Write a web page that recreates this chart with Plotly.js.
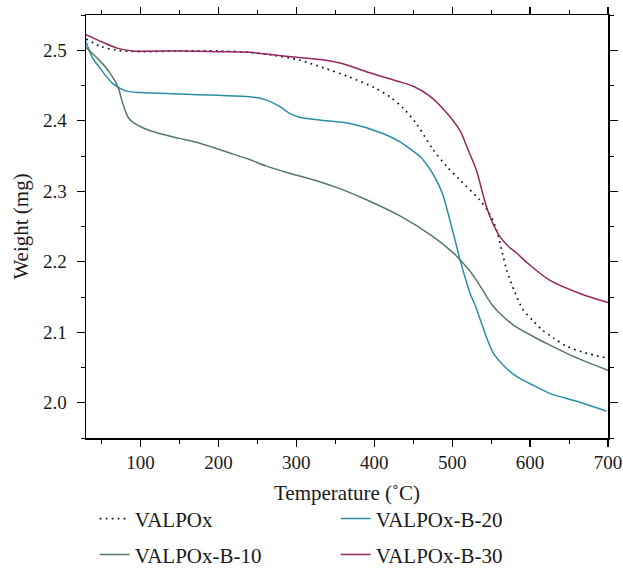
<!DOCTYPE html>
<html>
<head>
<meta charset="utf-8">
<script src="https://cdn.plot.ly/plotly-3.0.1.min.js"></script>
<style>html,body{margin:0;padding:0;background:#fff;}#chart{width:623px;height:569px;}</style>
</head>
<body>
<div id="chart"></div>
<script>
// Temperature (°C) / Weight (mg)
const tValpox = [30, 50, 70, 100, 150, 200, 240, 270, 304, 335, 368, 400, 420, 437, 454, 475, 493, 510, 535, 548, 557, 565, 570, 580, 591, 605, 616, 630, 647, 670, 700];
const wValpox = [2.516, 2.505, 2.500, 2.498, 2.499, 2.499, 2.497, 2.493, 2.486, 2.475, 2.462, 2.447, 2.434, 2.418, 2.396, 2.360, 2.335, 2.316, 2.288, 2.268, 2.245, 2.210, 2.188, 2.158, 2.132, 2.115, 2.103, 2.092, 2.080, 2.071, 2.063];

const tB10 = [30, 47, 60, 71, 77, 84, 90, 105, 124, 150, 176, 218, 240, 261, 290, 326, 360, 390, 433, 475, 500, 510, 522, 531, 538, 544, 552, 561, 580, 604, 625, 647, 670, 700];
const wB10 = [2.504, 2.486, 2.469, 2.448, 2.425, 2.405, 2.398, 2.389, 2.382, 2.375, 2.368, 2.353, 2.345, 2.336, 2.326, 2.315, 2.302, 2.288, 2.265, 2.236, 2.214, 2.203, 2.188, 2.174, 2.162, 2.151, 2.138, 2.127, 2.109, 2.094, 2.082, 2.070, 2.059, 2.046];

const tB20 = [30, 38, 47, 56, 64, 72, 82, 100, 150, 200, 240, 260, 279, 292, 304, 330, 369, 411, 433, 446, 460, 471, 480, 488, 497, 505, 510, 516, 523, 530, 536, 545, 553, 565, 583, 600, 626, 660, 698];
const wB20 = [2.512, 2.490, 2.476, 2.463, 2.453, 2.447, 2.442, 2.440, 2.438, 2.436, 2.434, 2.430, 2.420, 2.410, 2.405, 2.401, 2.396, 2.382, 2.370, 2.360, 2.348, 2.332, 2.315, 2.295, 2.259, 2.225, 2.203, 2.180, 2.155, 2.137, 2.118, 2.090, 2.070, 2.054, 2.037, 2.027, 2.013, 2.002, 1.988];

const tB30 = [30, 50, 70, 90, 150, 200, 240, 290, 330, 356, 394, 430, 450, 470, 490, 510, 520, 531, 538, 544, 552, 561, 572, 583, 600, 625, 664, 700];
const wB30 = [2.522, 2.512, 2.503, 2.499, 2.499, 2.498, 2.497, 2.491, 2.487, 2.482, 2.468, 2.456, 2.449, 2.436, 2.415, 2.386, 2.360, 2.330, 2.302, 2.278, 2.255, 2.236, 2.222, 2.212, 2.195, 2.174, 2.155, 2.142];

const names = ['VALPOx', 'VALPOx-B-10', 'VALPOx-B-20', 'VALPOx-B-30'];
const colors = ['#111111', '#547a62', '#2a8da6', '#952660'];
const xTitle = 'Temperature (˚C)';
const yTitle = 'Weight (mg)';

const fam = '"Liberation Serif", "Times New Roman", serif';
const tickFont = {family: fam, size: 19, color: '#1a1a1a'};
const titleFont = {family: fam, size: 21, color: '#1a1a1a'};
const legFont = {family: fam, size: 21, color: '#1a1a1a'};

const traces = [
  {x: tValpox, y: wValpox, name: names[0], mode: 'lines', line: {color: colors[0], width: 1.7, dash: '1.7px,4.3px', shape: 'spline', smoothing: 0.8}, legend: 'legend'},
  {x: tB20, y: wB20, name: names[2], mode: 'lines', line: {color: colors[2], width: 1.5, shape: 'spline', smoothing: 0.8}, legend: 'legend'},
  {x: tB10, y: wB10, name: names[1], mode: 'lines', line: {color: colors[1], width: 1.5, shape: 'spline', smoothing: 0.8}, legend: 'legend2'},
  {x: tB30, y: wB30, name: names[3], mode: 'lines', line: {color: colors[3], width: 1.5, shape: 'spline', smoothing: 0.8}, legend: 'legend2'}
];

const legendCommon = {orientation: 'h', xref: 'container', yref: 'container', x: 0.152, xanchor: 'left', yanchor: 'middle',
  font: legFont, entrywidth: 196, entrywidthmode: 'pixels', bgcolor: 'rgba(0,0,0,0)', traceorder: 'normal'};

const layout = {
  width: 623, height: 569,
  margin: {l: 86, r: 15, t: 15, b: 131},
  paper_bgcolor: '#fff', plot_bgcolor: '#fff',
  font: tickFont,
  showlegend: true,
  xaxis: {
    range: [30, 700], tick0: 0, dtick: 100, ticks: 'outside', ticklen: 7, tickwidth: 1.2, tickcolor: '#000',
    showline: true, linecolor: '#000', linewidth: 1.5, mirror: 'allticks', showgrid: false, zeroline: false, automargin: false,
    minor: {dtick: 50, ticks: 'outside', ticklen: 4, tickcolor: '#000', tickwidth: 1},
    tickfont: tickFont
  },
  yaxis: {
    range: [1.95, 2.55], tick0: 2.0, dtick: 0.1, tickformat: '.1f', ticks: 'outside', ticklen: 8, tickwidth: 1.2, tickcolor: '#000',
    showline: true, linecolor: '#000', linewidth: 1.5, mirror: 'allticks', showgrid: false, zeroline: false, automargin: false,
    minor: {dtick: 0.05, ticks: 'outside', ticklen: 4, tickcolor: '#000', tickwidth: 1},
    tickfont: tickFont, ticklabelstandoff: 6
  },
  annotations: [
    {text: xTitle, xref: 'paper', yref: 'paper', x: 0.5, y: -0.130, xanchor: 'center', yanchor: 'middle', showarrow: false, font: titleFont},
    {text: yTitle, xref: 'paper', yref: 'paper', x: -0.1264, y: 0.5, xanchor: 'center', yanchor: 'middle', textangle: -90, showarrow: false, font: titleFont}
  ],
  legend: Object.assign({}, legendCommon, {y: 0.088}),
  legend2: Object.assign({}, legendCommon, {y: 0.025})
};

Plotly.newPlot('chart', traces, layout, {displayModeBar: false, staticPlot: true});
</script>
</body>
</html>
